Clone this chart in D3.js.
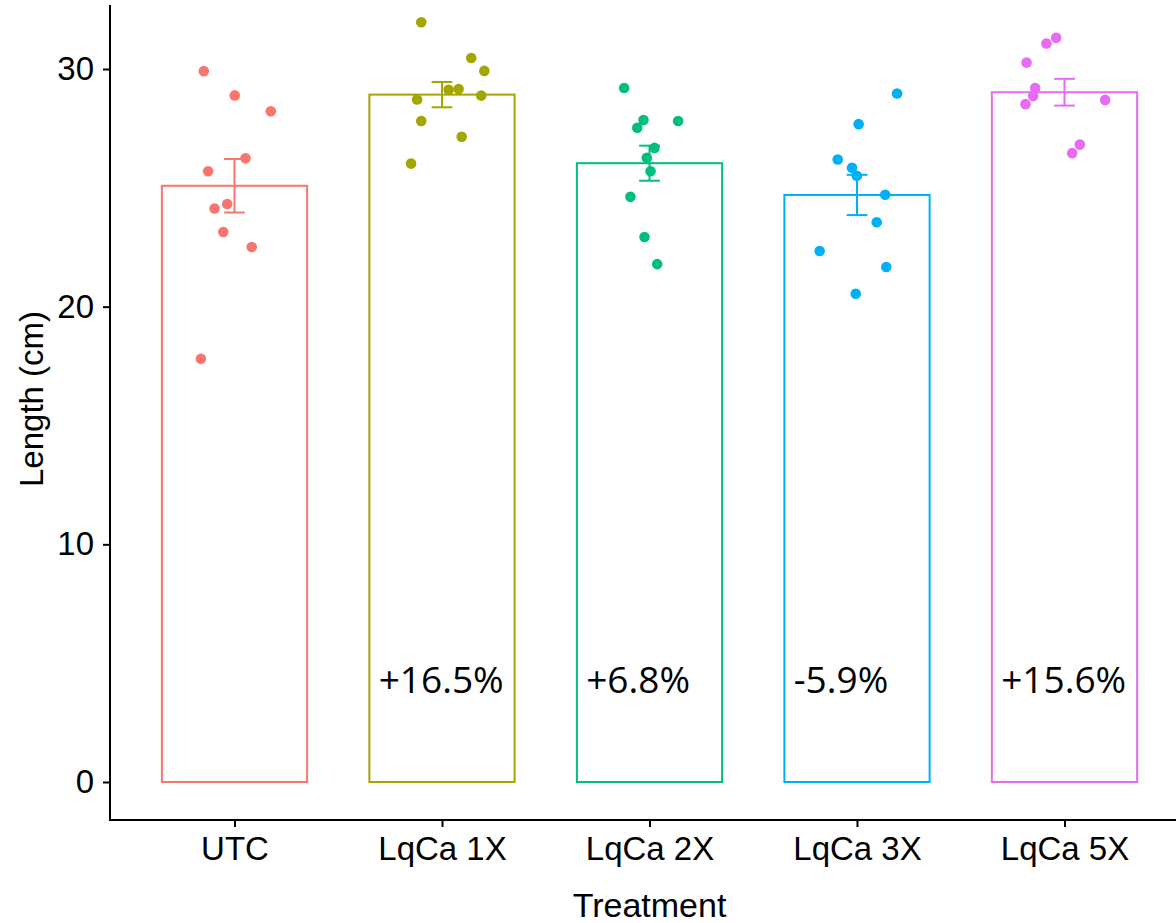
<!DOCTYPE html>
<html>
<head>
<meta charset="utf-8">
<script src="https://cdn.jsdelivr.net/npm/d3@7"></script>
<style>
  html, body { margin: 0; padding: 0; background: #fff; }
  svg { display: block; }
</style>
</head>
<body>
<svg id="chart" width="1176" height="923"></svg>
<script>
// Treatment groups and their fill colours
const treatments = ["UTC", "LqCa 1X", "LqCa 2X", "LqCa 3X", "LqCa 5X"];
const colors = ["#F8766D", "#A3A500", "#00BF7D", "#00B0F6", "#E76BF3"];

// Individual plant lengths (cm) per treatment
const lengthUTC = [29.91, 28.89, 28.22, 26.24, 25.70, 24.32, 24.13, 23.14, 22.51, 17.81];
const length1X  = [31.97, 30.46, 29.92, 29.13, 29.16, 28.88, 28.72, 27.81, 27.15, 26.02];
const length2X  = [29.20, 27.85, 27.81, 27.53, 26.68, 26.26, 25.70, 24.62, 22.93, 21.79];
const length3X  = [28.97, 27.68, 26.19, 25.84, 25.51, 24.71, 23.55, 22.34, 21.67, 20.54];
const length5X  = [31.31, 31.07, 30.27, 29.20, 28.86, 28.52, 28.70, 26.82, 26.46];

// Horizontal jitter of each point, in category units
const jitterUTC = [-0.148, 0.001, 0.175, 0.053, -0.127, -0.035, -0.096, -0.054, 0.083, -0.162];
const jitter1X  = [-0.100, 0.141, 0.204, 0.032, 0.080, 0.189, -0.120, -0.100, 0.095, -0.149];
const jitter2X  = [-0.122, -0.029, 0.138, -0.059, 0.024, -0.013, 0.005, -0.092, -0.024, 0.037];
const jitter3X  = [0.193, 0.008, -0.093, -0.024, -0.001, 0.136, 0.095, -0.180, 0.141, -0.006];
const jitter5X  = [-0.040, -0.087, -0.183, -0.141, -0.151, -0.188, 0.196, 0.074, 0.037];

// Change relative to the untreated control
const changeLabels = ["", "+16.5%", "+6.8%", "-5.9%", "+15.6%"];

const yTicks = [0, 10, 20, 30];

const lengths = [lengthUTC, length1X, length2X, length3X, length5X];
const jitters = [jitterUTC, jitter1X, jitter2X, jitter3X, jitter5X];

// Mean and standard error per group
const summary = treatments.map((t, i) => {
  const v = lengths[i];
  const m = d3.mean(v);
  const se = d3.deviation(v) / Math.sqrt(v.length);
  return { treatment: t, index: i + 1, mean: m, se: se, color: colors[i], label: changeLabels[i] };
});

const points = [];
lengths.forEach((v, i) => v.forEach((val, j) => points.push({
  index: i + 1, value: val, jitter: jitters[i][j], color: colors[i]
})));

const svg = d3.select("#chart");
const panel = { left: 110, top: 5, bottom: 820 };
const step = 207.5;

// Discrete axis drawn on a continuous position scale (categories at 1..5)
const x = d3.scaleLinear().domain([0.4, 5.6]).range([panel.left, panel.left + 5.2 * step]);
const y = d3.scaleLinear().domain([0, 30]).range([782, 69]);

const barHalf = 0.35;
const capHalf = 0.05;
const axisFont = "'Liberation Sans', Arial, sans-serif";

// Bars (hollow, coloured outline)
svg.append("g").selectAll("rect")
  .data(summary)
  .join("rect")
  .attr("x", d => x(d.index - barHalf))
  .attr("y", d => y(d.mean))
  .attr("width", d => x(d.index + barHalf) - x(d.index - barHalf))
  .attr("height", d => y(0) - y(d.mean))
  .attr("fill", "none")
  .attr("stroke", d => d.color)
  .attr("stroke-width", 2);

// Error bars (mean ± SE)
const eb = svg.append("g").selectAll("g")
  .data(summary)
  .join("g")
  .attr("stroke", d => d.color)
  .attr("stroke-width", 2)
  .attr("fill", "none");
eb.append("line")
  .attr("x1", d => x(d.index)).attr("x2", d => x(d.index))
  .attr("y1", d => y(d.mean - d.se)).attr("y2", d => y(d.mean + d.se));
eb.append("line")
  .attr("x1", d => x(d.index - capHalf)).attr("x2", d => x(d.index + capHalf))
  .attr("y1", d => y(d.mean + d.se)).attr("y2", d => y(d.mean + d.se));
eb.append("line")
  .attr("x1", d => x(d.index - capHalf)).attr("x2", d => x(d.index + capHalf))
  .attr("y1", d => y(d.mean - d.se)).attr("y2", d => y(d.mean - d.se));

// Jittered observations
svg.append("g").selectAll("circle")
  .data(points)
  .join("circle")
  .attr("cx", d => x(d.index + d.jitter))
  .attr("cy", d => y(d.value))
  .attr("r", 5.3)
  .attr("fill", d => d.color);

// Percent change annotations
svg.append("g").selectAll("text")
  .data(summary.filter(d => d.label))
  .join("text")
  .attr("x", d => x(d.index - 0.305))
  .attr("y", 693)
  .attr("font-family", "'Open Sans', sans-serif")
  .attr("font-size", 37)
  .attr("fill", "#000")
  .text(d => d.label);

// Y axis
const yAxis = svg.append("g")
  .attr("transform", `translate(${panel.left},0)`)
  .call(d3.axisLeft(y).tickValues(yTicks).tickSize(7).tickPadding(9).tickFormat(d3.format("d")));
yAxis.select(".domain").remove();
yAxis.append("line")
  .attr("x1", 0).attr("x2", 0)
  .attr("y1", panel.top).attr("y2", panel.bottom)
  .attr("stroke", "#000").attr("stroke-width", 2);

// X axis
const xAxis = svg.append("g")
  .attr("transform", `translate(0,${panel.bottom})`)
  .call(d3.axisBottom(x).tickValues(d3.range(1, 6)).tickSize(7).tickPadding(10)
    .tickFormat(i => treatments[i - 1]));
xAxis.select(".domain").remove();
xAxis.append("line")
  .attr("x1", panel.left - 1).attr("x2", x(5.6))
  .attr("y1", 0).attr("y2", 0)
  .attr("stroke", "#000").attr("stroke-width", 2);

[yAxis, xAxis].forEach(a => {
  a.selectAll(".tick line").attr("stroke", "#000").attr("stroke-width", 2);
  a.selectAll(".tick text")
    .attr("fill", "#000")
    .attr("font-family", axisFont)
    .attr("font-size", 33);
});

// Axis titles
svg.append("text")
  .attr("x", x(3))
  .attr("y", 917)
  .attr("text-anchor", "middle")
  .attr("font-family", axisFont)
  .attr("font-size", 34)
  .text("Treatment");

svg.append("text")
  .attr("transform", `translate(43,399) rotate(-90)`)
  .attr("text-anchor", "middle")
  .attr("font-family", axisFont)
  .attr("font-size", 33)
  .text("Length (cm)");
</script>
</body>
</html>
